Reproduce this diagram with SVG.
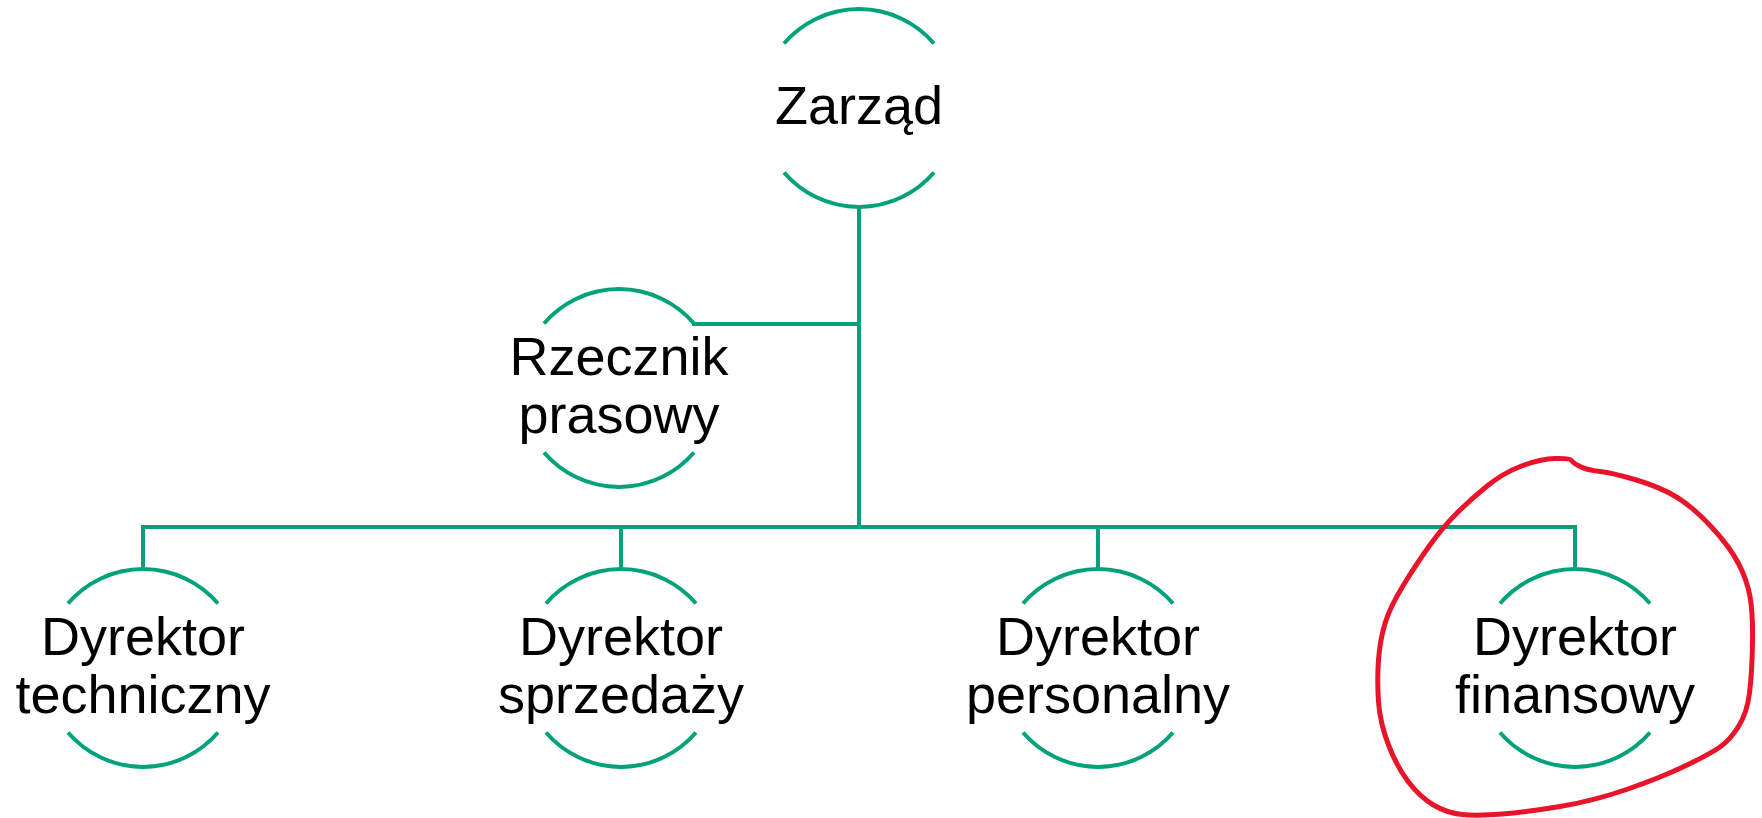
<svg xmlns="http://www.w3.org/2000/svg" width="1762" height="818" viewBox="0 0 1762 818">
<defs>
<style>
.arc{fill:none;stroke:#00a27b;stroke-width:4}
.con{fill:none;stroke:#00a27b;stroke-width:4;stroke-linejoin:miter;stroke-linecap:square}
.lbl{font-family:"Liberation Sans",Arial,sans-serif;font-size:54px;fill:#000;text-anchor:middle}
.mark{fill:none;stroke:#e8152a;stroke-width:5;stroke-linecap:round;stroke-linejoin:round}
</style>
</defs>
<rect width="1762" height="818" fill="#fff"/>
<g id="connectors">
<path class="con" d="M859,208 V527"/>
<path class="con" d="M694,324 H859"/>
<path class="con" d="M143,569 V527 H1575 V569"/>
<path class="con" d="M621,527 V569"/>
<path class="con" d="M1098,527 V569"/>
</g>
<g id="node-zarzad">
<path class="arc" d="M784,43.5 A99,99 0 0 1 934,43.5"/>
<path class="arc" d="M784,172.5 A99,99 0 0 0 934,172.5"/>
<text class="lbl" x="859" y="124">Zarząd</text>
</g>
<g id="node-rzecznik">
<path class="arc" d="M544,323.5 A99,99 0 0 1 694,323.5"/>
<path class="arc" d="M544,452.5 A99,99 0 0 0 694,452.5"/>
<text class="lbl" x="619" y="375">Rzecznik</text>
<text class="lbl" x="619" y="433">prasowy</text>
</g>
<g id="node-techniczny">
<path class="arc" d="M68,603.5 A99,99 0 0 1 218,603.5"/>
<path class="arc" d="M68,732.5 A99,99 0 0 0 218,732.5"/>
<text class="lbl" x="143" y="655">Dyrektor</text>
<text class="lbl" x="143" y="713">techniczny</text>
</g>
<g id="node-sprzedazy">
<path class="arc" d="M546,603.5 A99,99 0 0 1 696,603.5"/>
<path class="arc" d="M546,732.5 A99,99 0 0 0 696,732.5"/>
<text class="lbl" x="621" y="655">Dyrektor</text>
<text class="lbl" x="621" y="713">sprzedaży</text>
</g>
<g id="node-personalny">
<path class="arc" d="M1023,603.5 A99,99 0 0 1 1173,603.5"/>
<path class="arc" d="M1023,732.5 A99,99 0 0 0 1173,732.5"/>
<text class="lbl" x="1098" y="655">Dyrektor</text>
<text class="lbl" x="1098" y="713">personalny</text>
</g>
<g id="node-finansowy">
<path class="arc" d="M1500,603.5 A99,99 0 0 1 1650,603.5"/>
<path class="arc" d="M1500,732.5 A99,99 0 0 0 1650,732.5"/>
<text class="lbl" x="1575" y="655">Dyrektor</text>
<text class="lbl" x="1575" y="713">finansowy</text>
</g>
<g id="annotation">
<path class="mark" d="M1555,458.5 Q1540,459 1521.5,466 Q1503,473 1486.5,486.5 Q1470,500 1456.5,513.5 Q1443,527 1430,545 Q1417,563 1403.5,585 Q1390,607 1385,623.5 Q1380,640 1378.5,660 Q1377,680 1378.5,701.5 Q1380,723 1388.5,745 Q1397,767 1408.5,782 Q1420,797 1433.5,805 Q1447,813 1462,814.5 Q1477,816 1502,814 Q1527,812 1560,806.5 Q1593,801 1626.5,789.5 Q1660,778 1685,766 Q1710,754 1720,747 Q1730,740 1738.5,726.5 Q1747,713 1749.5,693 Q1752,673 1752.5,643 Q1753,613 1750,596.5 Q1747,580 1738.5,563.5 Q1730,547 1711.5,527 Q1693,507 1676.5,497 Q1660,487 1636.5,480 Q1613,473 1600,471.5 Q1587,470 1580,466.5 Q1573,463 1571.5,460.5 Q1570,458 1555,458.5"/>
</g>
</svg>
